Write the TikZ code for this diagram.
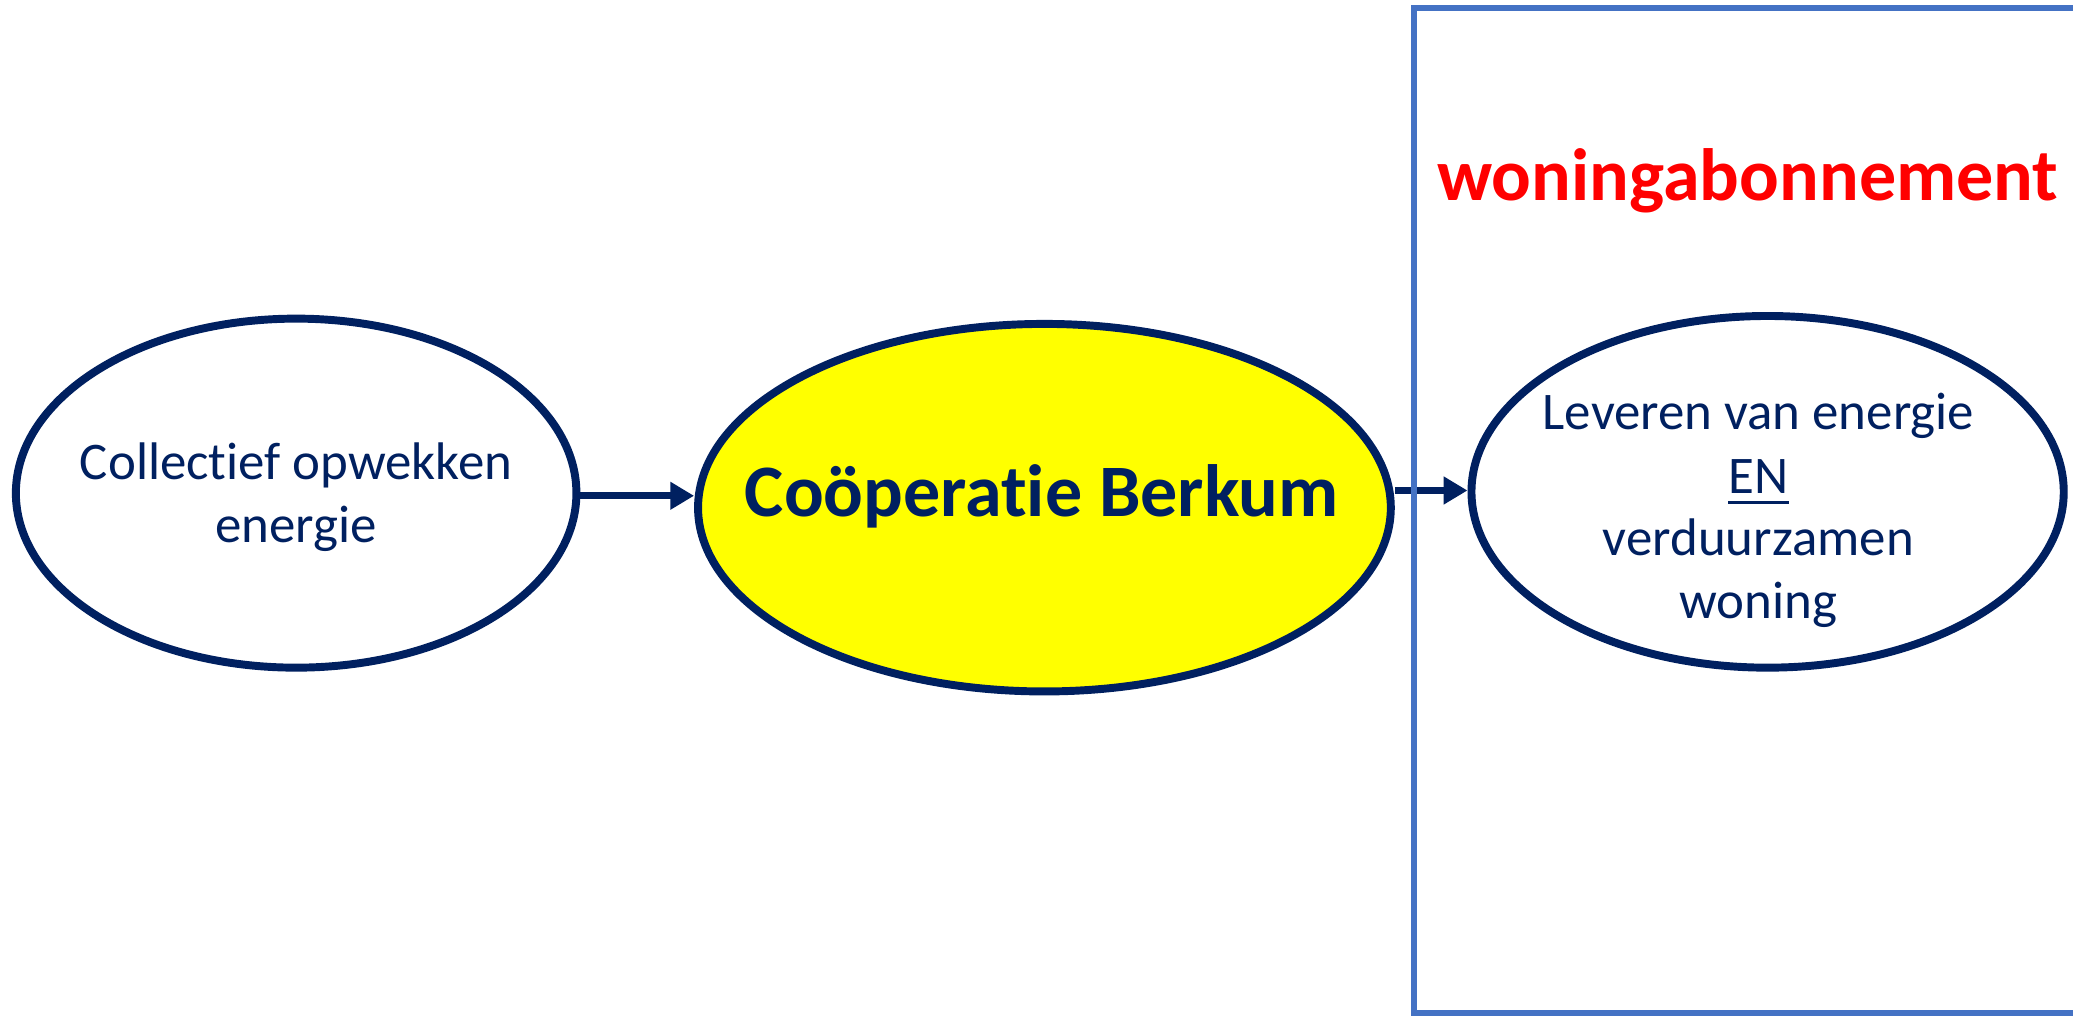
\documentclass[tikz,border=0pt]{standalone}
\usepackage{fontspec}
\setmainfont{Carlito}[Ligatures=NoCommon]
\usetikzlibrary{arrows.meta,shapes.geometric}
\definecolor{navy}{HTML}{002060}
\definecolor{boxblue}{HTML}{4472C4}
\definecolor{hilite}{HTML}{FFFF00}
\definecolor{alertred}{HTML}{FF0000}
\begin{document}
\begin{tikzpicture}[x=1pt,y=-1pt,
  oval/.style={draw=navy, line width=6pt, ellipse, inner sep=0pt},
  arr/.style={draw=navy, line width=5.5pt, -{Triangle[length=18pt,width=20pt]}},
  txt/.style={text=navy, inner sep=0pt, anchor=base, font=\fontsize{40}{48}\selectfont},
  bigtxt/.style={text=navy, inner sep=0pt, anchor=base, font=\fontsize{56}{67}\selectfont\bfseries},
  redtxt/.style={text=alertred, inner sep=0pt, anchor=base, font=\fontsize{56}{67}\selectfont\bfseries},
  boxline/.style={draw=boxblue, line width=4.5pt}]
\fill[white] (0,0) rectangle (1568,769);
\useasboundingbox (0,0) rectangle (1568,769);
% ellipses
\node[oval, minimum width=424pt, minimum height=264pt] (left) at (224,373) {};
\node[oval, fill=hilite, minimum width=524pt, minimum height=278pt] (mid) at (790,384) {};
\node[oval, minimum width=448pt, minimum height=266pt] (right) at (1337,372) {};
% texts
\node[txt] (t1) at (224,363) {Collectief opwekken};
\node[txt] (t2) at (224,410) {energie};
\node[bigtxt] (coop) at (788,391) {Coöperatie Berkum};
\node[txt] (r1) at (1330,325) {Leveren van energie};
\node[txt] (r2) at (1330,373) {EN};
\draw[navy, line width=2.5pt] ([yshift=-7pt]r2.base west) -- ([yshift=-7pt]r2.base east);
\node[txt] (r3) at (1330,420) {verduurzamen};
\node[txt] (r4) at (1330,468) {woning};
\node[redtxt] (abo) at (1322,152) {woningabonnement};
% arrows
\draw[arr] ([yshift=-2pt]left.east) -- ([yshift=-2pt]left.east -| mid.west);
\draw[arr] ([yshift=1pt]right.west -| mid.east) -- ([yshift=1pt]right.west);
% box
\coordinate (bx1) at (1568,6);
\coordinate (bx2) at (1069.5,6);
\coordinate (bx3) at (1069.5,766.5);
\coordinate (bx4) at (1568,766.5);
\draw[boxline] (bx1) -- (bx2) -- (bx3) -- (bx4);
\end{tikzpicture}
\end{document}
